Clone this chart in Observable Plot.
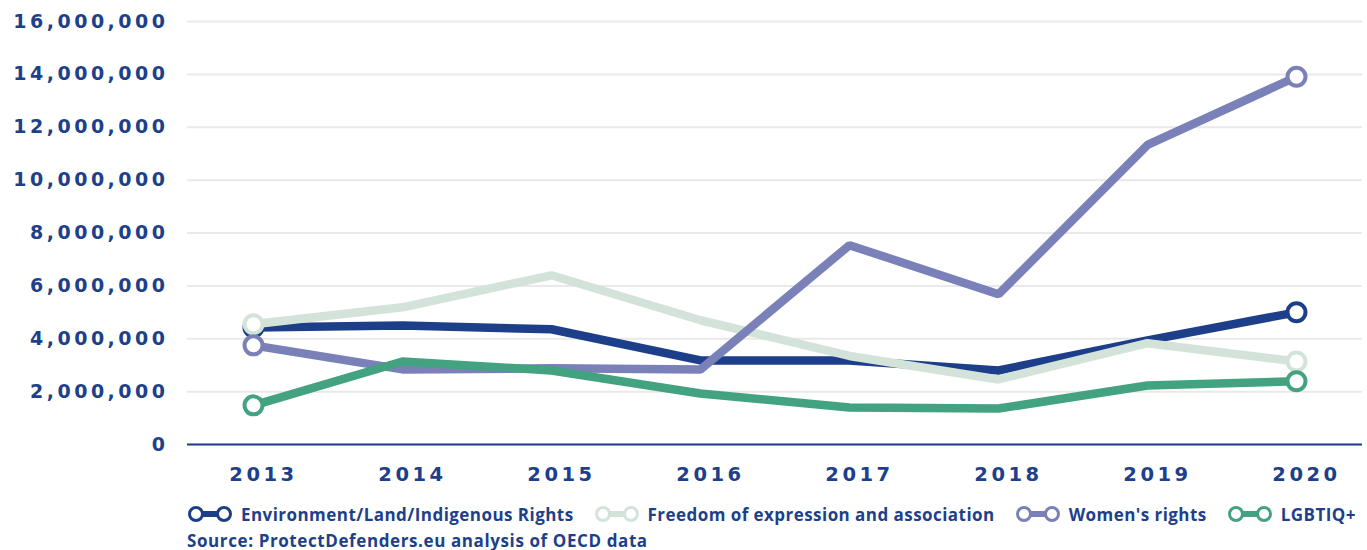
<!DOCTYPE html>
<html>
<head>
<meta charset="utf-8">
<script src="https://cdn.jsdelivr.net/npm/d3@7"></script>
<script src="https://cdn.jsdelivr.net/npm/@observablehq/plot@0.6"></script>
<style>
  body { margin: 0; background: #fff; font-family: "Open Sans", "DejaVu Sans", sans-serif; }
  #chart svg { display: block; }
  #chart svg g[aria-label="y-axis tick label"] text { font-family: "DejaVu Sans", sans-serif; font-size: 19px; font-weight: 700; letter-spacing: 3.5px; fill: #1e3f8a; }
  #chart svg g[aria-label="x-axis tick label"] text { font-family: "DejaVu Sans", sans-serif; font-size: 19.5px; font-weight: 700; letter-spacing: 3.5px; fill: #1e3f8a; }
  .legend { display: flex; flex-wrap: nowrap; white-space: nowrap; align-items: center; margin-left: 187px; padding-top: 7px; height: 24px; }
  .item { display: flex; flex-shrink: 0; align-items: center; margin-right: 20px; }
  .item span { font-size: 17px; font-weight: 700; letter-spacing: 0.45px; color: #1e3f8a; margin-left: 8px; white-space: nowrap; }
  .source { margin-left: 187px; font-size: 17px; font-weight: 700; letter-spacing: 0.6px; color: #1e3f8a; margin-top: 3px; white-space: nowrap; }
</style>
</head>
<body>
<div id="chart"></div>
<div class="legend" id="legend"></div>
<div class="source">Source: ProtectDefenders.eu analysis of OECD data</div>
<script>
const years = [2013, 2014, 2015, 2016, 2017, 2018, 2019, 2020];
const seriesNames = ["Environment/Land/Indigenous Rights", "Freedom of expression and association", "Women's rights", "LGBTIQ+"];
const seriesColors = ["#1d3f8a", "#d4e3d9", "#7a80b8", "#43a27f"];
const environment = [4430000, 4500000, 4360000, 3180000, 3180000, 2800000, 3940000, 5000000];
const freedom = [4550000, 5190000, 6400000, 4700000, 3350000, 2460000, 3830000, 3140000];
const women = [3750000, 2840000, 2880000, 2840000, 7540000, 5680000, 11330000, 13910000];
const lgbtiq = [1480000, 3140000, 2800000, 1930000, 1400000, 1360000, 2230000, 2390000];
const yTicks = [0, 2000000, 4000000, 6000000, 8000000, 10000000, 12000000, 14000000, 16000000];

const allValues = [environment, freedom, women, lgbtiq];
const data = [];
allValues.forEach((vals, i) => {
  vals.forEach((v, j) => data.push({series: seriesNames[i], year: years[j], value: v, end: j === 0 || j === vals.length - 1}));
});

const marks = [
  Plot.gridY(yTicks, {stroke: "#e9e9e9", strokeWidth: 2, strokeOpacity: 1}),
  Plot.ruleY([0], {stroke: "#1d3f8a", strokeWidth: 2}),
  Plot.axisY(yTicks, {tickSize: 0, tickPadding: 19, tickFormat: d3.format(","), label: null}),
  Plot.axisX(years, {tickSize: 0, tickPadding: 23, dx: 10, tickFormat: d => String(d), label: null})
];
seriesNames.forEach((name) => {
  const sub = data.filter(d => d.series === name);
  marks.push(Plot.line(sub, {x: "year", y: "value", stroke: "series", strokeWidth: 8.5, strokeLinejoin: "miter", strokeLinecap: "butt"}));
  marks.push(Plot.dot(sub.filter(d => d.end), {x: "year", y: "value", stroke: "series", fill: "white", r: 9, strokeWidth: 4}));
});

const chart = Plot.plot({
  width: 1367,
  height: 495,
  marginLeft: 187,
  marginRight: 5,
  marginTop: 21,
  marginBottom: 51,
  x: {type: "point", domain: years, padding: 0.42, axis: null},
  y: {domain: [0, 16000000], axis: null},
  color: {domain: seriesNames, range: seriesColors},
  style: {fontFamily: "'Open Sans', 'DejaVu Sans', sans-serif", background: "white"},
  marks
});
document.getElementById("chart").appendChild(chart);

const legend = document.getElementById("legend");
seriesNames.forEach((name, i) => {
  const c = seriesColors[i];
  const item = document.createElement("div");
  item.className = "item";
  item.innerHTML = `<svg width="46" height="18"><line x1="9" y1="9" x2="37" y2="9" stroke="${c}" stroke-width="6"/><circle cx="9" cy="9" r="6.5" fill="white" stroke="${c}" stroke-width="3"/><circle cx="37" cy="9" r="6.5" fill="white" stroke="${c}" stroke-width="3"/></svg><span>${name}</span>`;
  legend.appendChild(item);
});
</script>
</body>
</html>
